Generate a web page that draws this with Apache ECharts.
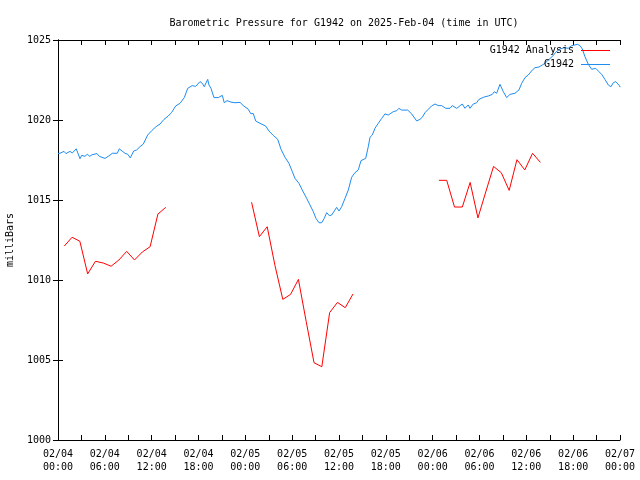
<!DOCTYPE html>
<html>
<head>
<meta charset="utf-8">
<script src="https://cdn.jsdelivr.net/npm/echarts@6/dist/echarts.min.js"></script>
<style>html,body{margin:0;padding:0;background:#fff;}#c{width:640px;height:480px;}</style>
</head>
<body>
<div id="c"></div>
<script>
// x values are hours since 2025-02-04 00:00 UTC
var xTickLabels = ['02/04\n00:00','02/04\n06:00','02/04\n12:00','02/04\n18:00','02/05\n00:00','02/05\n06:00','02/05\n12:00','02/05\n18:00','02/06\n00:00','02/06\n06:00','02/06\n12:00','02/06\n18:00','02/07\n00:00'];
var yTickLabels = ['1000','1005','1010','1015','1020','1025'];

var analysisHours = [0.8,1.8,2.8,3.8,4.8,5.8,6.8,7.8,8.8,9.8,10.8,11.8,12.8,13.8, 19,
  24.8,25.8,26.8,27.8,28.8,29.8,30.8,31.8,32.8,33.8,34.8,35.8,36.8,37.8, 43,
  48.8,49.8,50.8,51.8,52.8,53.8,54.8,55.8,56.8,57.8,58.8,59.8,60.8,61.8];
var analysisValues = [1012.12,1012.67,1012.42,1010.38,1011.17,1011.06,1010.86,1011.25,1011.79,1011.25,1011.75,1012.08,1014.12,1014.54, null,
  1014.86,1012.71,1013.33,1010.9,1008.79,1009.1,1010.04,1007.4,1004.83,1004.58,1007.96,1008.6,1008.27,1009.13, null,
  1016.23,1016.23,1014.56,1014.56,1016.1,1013.88,1015.5,1017.1,1016.7,1015.6,1017.52,1016.88,1017.92,1017.35];

var stationHours = [0,0.26,0.77,1.02,1.54,1.83,2.34,2.82,3.04,3.46,3.75,4.06,4.36,5.0,5.29,6.02,6.44,6.96,7.6,7.85,8.58,8.93,9.26,9.7,10.08,10.5,10.93,11.49,12.0,12.55,13.07,13.58,14.13,14.57,15.08,15.63,16.18,16.62,17.2,17.64,17.85,18.19,
  18.49,18.74,19.18,19.34,19.6,19.98,20.54,21.05,21.3,21.65,22.16,22.67,23.32,23.74,24.38,24.69,25.02,25.33,25.88,26.61,27.03,27.58,28.15,28.57,29.08,29.59,30.02,30.36,30.87,31.3,31.86,32.28,32.71,33.05,33.44,33.78,34.11,34.42,34.76,35.06,35.27,35.7,36.0,
  36.34,36.77,37.19,37.62,38.05,38.47,38.82,39.42,39.75,39.97,40.26,40.61,41.03,41.47,41.89,42.31,42.95,43.39,43.68,44.03,44.8,45.31,45.95,46.37,46.67,47.02,47.44,47.87,48.3,48.72,49.15,49.67,50.22,50.51,51.08,51.79,52.14,52.56,52.78,53.2,53.64,53.93,
  54.06,54.61,55.12,55.64,55.89,56.2,56.62,57.05,57.48,57.9,58.55,59.06,59.4,59.83,60.25,60.76,61.11,61.62,62.04,62.39,62.81,63.32,63.76,64.31,64.86,65.37,65.81,66.23,66.53,66.87,67.17,67.51,67.94,68.37,68.88,69.31,69.65,70.07,70.5,70.84,71.14,71.45,71.7,71.96,72];
var stationValues = [1017.9,1017.92,1018.04,1017.9,1018.04,1017.94,1018.2,1017.58,1017.79,1017.73,1017.86,1017.73,1017.83,1017.9,1017.73,1017.6,1017.73,1017.92,1017.92,1018.2,1017.92,1017.86,1017.63,1018.06,1018.13,1018.33,1018.5,1019.06,1019.33,1019.58,1019.75,1020.04,1020.25,1020.48,1020.88,1021.04,1021.4,1021.98,1022.15,1022.1,1022.21,1022.4,
  1022.29,1022.08,1022.54,1022.19,1021.98,1021.4,1021.4,1021.54,1021.08,1021.21,1021.12,1021.08,1021.1,1020.9,1020.67,1020.4,1020.4,1019.94,1019.79,1019.62,1019.31,1019.04,1018.79,1018.17,1017.67,1017.29,1016.77,1016.35,1016.04,1015.62,1015.1,1014.69,1014.27,1013.85,1013.58,1013.58,1013.85,1014.21,1014.02,1014.06,1013.94,1014.54,1014.31,
  1014.58,1015.1,1015.62,1016.42,1016.71,1016.88,1017.46,1017.6,1018.33,1018.92,1019.06,1019.48,1019.79,1020.1,1020.38,1020.31,1020.52,1020.58,1020.73,1020.62,1020.62,1020.38,1019.94,1020.04,1020.17,1020.46,1020.67,1020.88,1021.0,1020.9,1020.9,1020.73,1020.73,1020.9,1020.73,1021.0,1020.73,1020.94,1020.73,1021.0,1021.08,1021.29,
  1021.35,1021.44,1021.5,1021.6,1021.77,1021.67,1022.23,1021.77,1021.4,1021.6,1021.67,1021.88,1022.29,1022.65,1022.81,1023.12,1023.27,1023.31,1023.44,1023.54,1023.75,1023.96,1024.23,1024.44,1024.52,1024.48,1024.65,1024.69,1024.73,1024.65,1024.44,1023.96,1023.48,1023.17,1023.23,1023.02,1022.85,1022.54,1022.19,1022.08,1022.33,1022.4,1022.29,1022.13,1022.05];

function pairs(xs, ys){ var out=[]; for(var i=0;i<xs.length;i++){ out.push([xs[i], ys[i]===null ? '-' : ys[i]]); } return out; }

var FONT = 'DejaVu Sans Mono';
var chart = echarts.init(document.getElementById('c'), null, {renderer:'canvas'});
var axisBase = {
  axisLine:{show:true, lineStyle:{color:'#000', width:1}},
  splitLine:{show:false},
  axisTick:{show:true, inside:true, length:5, lineStyle:{color:'#000'}},
};
chart.setOption({
  animation:false,
  backgroundColor:'#fff',
  title:{text:'Barometric Pressure for G1942 on 2025-Feb-04 (time in UTC)', left:339, top:13, textAlign:'center',
    textStyle:{fontFamily:FONT, fontSize:10, fontWeight:'normal', color:'#000'}},
  grid:{left:58, right:20, top:40, bottom:40, containLabel:false, outerBoundsMode:'none'},
  legend:{orient:'vertical', right:30, top:44, padding:0, align:'right', itemWidth:29, itemHeight:1, itemGap:1,
    textStyle:{fontFamily:FONT, fontSize:10, color:'#000', lineHeight:13, padding:[0,2,0,0]},
    data:[{name:'G1942 Analysis', icon:'rect'},{name:'G1942', icon:'rect'}]},
  xAxis:[
    Object.assign({}, axisBase, {type:'value', min:0, max:72, interval:6,
      minorTick:{show:true, splitNumber:2, length:5, lineStyle:{color:'#000'}},
      axisLabel:{fontFamily:FONT, fontSize:10, color:'#000', lineHeight:13, margin:8, showMinLabel:true, showMaxLabel:true,
        formatter:function(v){ return xTickLabels[Math.round(v/6)]; }}}),
    Object.assign({}, axisBase, {type:'value', position:'top', min:0, max:72, interval:6,
      minorTick:{show:true, splitNumber:2, length:5, lineStyle:{color:'#000'}},
      axisLabel:{show:false}})
  ],
  yAxis:[
    Object.assign({}, axisBase, {type:'value', min:1000, max:1025, interval:5,
      name:'milliBars', nameLocation:'middle', nameGap:43, nameRotate:90,
      nameTextStyle:{fontFamily:FONT, fontSize:10, color:'#000'},
      axisLabel:{fontFamily:FONT, fontSize:10, color:'#000', margin:7,
        formatter:function(v){ return yTickLabels[Math.round((v-1000)/5)]; }}}),
    Object.assign({}, axisBase, {type:'value', position:'right', min:1000, max:1025, interval:5, axisLabel:{show:false}})
  ],
  series:[
    {name:'G1942 Analysis', type:'line', data:pairs(analysisHours, analysisValues), showSymbol:false, connectNulls:false,
      color:'#ff0000', lineStyle:{width:1, color:'#ff0000'}},
    {name:'G1942', type:'line', data:pairs(stationHours, stationValues), showSymbol:false,
      color:'#1e8cf0', lineStyle:{width:1, color:'#1e8cf0'}}
  ]
});
</script>
</body>
</html>
